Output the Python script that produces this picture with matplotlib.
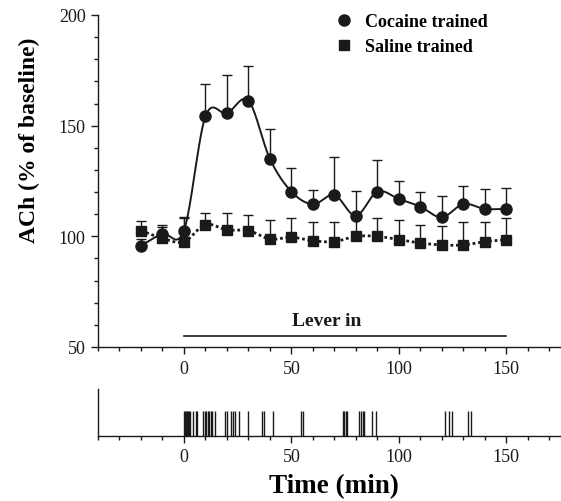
import numpy as np
import matplotlib
matplotlib.use("Agg")
import matplotlib.pyplot as plt
from matplotlib.lines import Line2D
from matplotlib.ticker import MultipleLocator

plt.rcParams['font.family'] = ['Liberation Serif', 'DejaVu Serif']

# sampling times (min)
t = [-20, -10, 0, 10, 20, 30, 40, 50, 60, 70, 80, 90, 100, 110, 120, 130, 140, 150]

cocaine = [95.8, 101.1, 102.6, 154.2, 155.6, 161.3, 135.0, 120.2, 114.5, 118.7, 109.3,
           120.2, 116.9, 113.4, 108.6, 114.6, 112.4, 112.4]
cocaine_err = [3.0, 4.2, 5.5, 14.6, 17.3, 15.5, 13.5, 10.5, 6.3, 17.0, 11.3,
               14.4, 8.3, 6.5, 9.8, 8.3, 9.0, 9.4]

saline = [102.6, 99.1, 97.6, 105.3, 102.9, 102.6, 98.8, 99.6, 98.0, 97.6, 100.0,
          100.0, 98.5, 97.0, 96.1, 96.1, 97.6, 98.5]
saline_err = [4.2, 5.0, 11.0, 5.1, 7.6, 7.0, 8.7, 8.5, 8.3, 9.0, 9.0,
              8.3, 9.0, 8.1, 8.7, 10.5, 8.7, 9.6]

# lever press times (min)
presses = [0, 0.5, 1, 1.5, 2, 2.5, 3, 4.3, 5.5, 6.3, 9, 9.7, 10.4, 11, 11.7, 12.5,
           13.2, 14.4, 19, 20.2, 21.7, 22.6, 23.9, 25.6, 29.9, 36.3, 37.2, 41.6,
           54.3, 55.5, 73.8, 74.5, 75.2, 75.7, 81.6, 82.4, 83.2, 83.9, 87.6, 89.6,
           121.4, 123.4, 124.8, 132.4, 133.6]

lever_start = 0
lever_end = 150

ink = '#1a1a1a'


def smooth(x, y, n=20):
	# Catmull-Rom curve through the points, only for drawing the line
	x = np.asarray(x, float)
	y = np.asarray(y, float)
	px = np.concatenate([[2*x[0]-x[1]], x, [2*x[-1]-x[-2]]])
	py = np.concatenate([[2*y[0]-y[1]], y, [2*y[-1]-y[-2]]])
	xs, ys = [], []
	s = np.linspace(0, 1, n, endpoint=False)
	for i in range(1, len(px)-2):
		for p, out in ((px, xs), (py, ys)):
			p0, p1, p2, p3 = p[i-1], p[i], p[i+1], p[i+2]
			out.extend(0.5*((2*p1) + (-p0+p2)*s + (2*p0-5*p1+4*p2-p3)*s**2
							+ (-p0+3*p1-3*p2+p3)*s**3))
	xs.append(x[-1])
	ys.append(y[-1])
	return np.array(xs), np.array(ys)


fig = plt.figure(figsize=(5.61, 5.02), dpi=100)
ax = fig.add_axes([98/561, 154/502, 462/561, 332/502])
ax2 = fig.add_axes([98/561, 65/502, 462/561, 47/502])

# cocaine
xs, ys = smooth(t, cocaine)
ax.plot(xs, ys, color=ink, lw=1.4, zorder=3)
ax.errorbar(t, cocaine, yerr=[np.zeros(len(t)), cocaine_err], fmt='none', ecolor=ink,
			elinewidth=1, capsize=3.5, capthick=1, zorder=2)
ax.plot(t, cocaine, 'o', color=ink, ms=8, zorder=4)

# saline
xs, ys = smooth(t, saline)
ax.plot(xs, ys, color=ink, lw=2, ls=(0, (1, 1)), zorder=3)
ax.errorbar(t, saline, yerr=[np.zeros(len(t)), saline_err], fmt='none', ecolor=ink,
			elinewidth=1, capsize=3.5, capthick=1, zorder=2)
ax.plot(t, saline, 's', color=ink, ms=6.5, zorder=4)

# lever in
ax.plot([lever_start, lever_end], [55.0, 55.0], color=ink, lw=1.2)
ax.text((lever_start + lever_end) / 2 - 8.5, 58.3, 'Lever in', ha='center', va='bottom',
		fontsize=14, fontweight='bold', color=ink)

ax.set_xlim(-40, 175)
ax.set_ylim(50, 200)
ax.xaxis.set_major_locator(MultipleLocator(50))
ax.xaxis.set_minor_locator(MultipleLocator(10))
ax.yaxis.set_major_locator(MultipleLocator(50))
ax.yaxis.set_minor_locator(MultipleLocator(10))
ax.set_xticks([0, 50, 100, 150])
ax.set_ylabel('ACh (% of baseline)', fontsize=17, fontweight='bold')
ax.yaxis.set_label_coords(-0.125, 0.627)

handles = [Line2D([], [], marker='o', ls='none', color=ink, ms=8),
		   Line2D([], [], marker='s', ls='none', color=ink, ms=6.5)]
ax.legend(handles, ['Cocaine trained', 'Saline trained'], frameon=False, loc='upper left',
		  bbox_to_anchor=(0.473, 1.055), prop={'weight': 'bold', 'size': 13},
		  handletextpad=0.6, labelspacing=0.45, handlelength=1.2)

# lever presses
ax2.vlines(presses, 0, 0.53, color=ink, lw=1)
ax2.set_xlim(-40, 175)
ax2.set_ylim(0, 1)
ax2.xaxis.set_major_locator(MultipleLocator(50))
ax2.xaxis.set_minor_locator(MultipleLocator(10))
ax2.set_xticks([0, 50, 100, 150])
ax2.set_yticks([])
ax2.set_xlabel('Time (min)', fontsize=19.5, fontweight='bold')
ax2.xaxis.set_label_coords(0.511, -0.8)

for a in (ax, ax2):
	a.spines['top'].set_visible(False)
	a.spines['right'].set_visible(False)
	for s in ('left', 'bottom'):
		a.spines[s].set_linewidth(1)
		a.spines[s].set_color(ink)
	a.tick_params(which='major', direction='out', length=5, width=1, color=ink,
				  labelsize=13, labelcolor=ink, pad=4)
	a.tick_params(which='minor', direction='out', length=3, width=1, color=ink)

plt.savefig('out.png', dpi=100)
